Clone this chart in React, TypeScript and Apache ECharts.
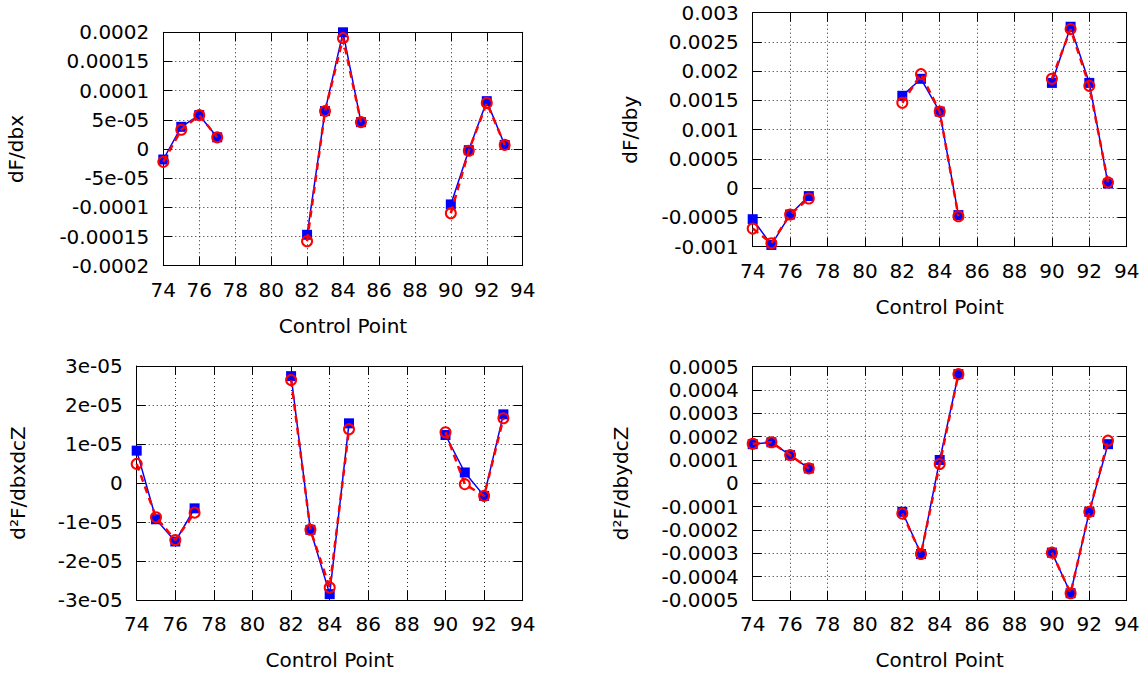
import React, { useEffect, useRef } from "react";
import * as echarts from "echarts";

const controlPoints = [74, 75, 76, 77, 82, 83, 84, 85, 90, 91, 92, 93];
const groups = [[0, 4], [4, 8], [8, 12]];

const dFdbxBlue = [-1.8e-5, 3.8e-5, 5.8e-5, 2.0e-5, -1.47e-4, 6.5e-5, 2.0e-4, 4.6e-5, -9.5e-5, -2e-6, 8.2e-5, 7e-6];
const dFdbxRed = [-2.2e-5, 3.3e-5, 5.8e-5, 2.0e-5, -1.58e-4, 6.5e-5, 1.9e-4, 4.6e-5, -1.1e-4, -3e-6, 7.9e-5, 7e-6];

const dFdbyBlue = [-5.3e-4, -9.7e-4, -4.5e-4, -1.35e-4, 1.58e-3, 1.87e-3, 1.31e-3, -4.6e-4, 1.8e-3, 2.76e-3, 1.8e-3, 8e-5];
const dFdbyRed = [-6.9e-4, -9.4e-4, -4.5e-4, -1.75e-4, 1.46e-3, 1.95e-3, 1.31e-3, -4.8e-4, 1.87e-3, 2.72e-3, 1.75e-3, 1.0e-4];

const d2FdbxdcZBlue = [8.3e-6, -9.3e-6, -1.5e-5, -6.5e-6, 2.74e-5, -1.2e-5, -2.85e-5, 1.53e-5, 1.23e-5, 2.7e-6, -3.3e-6, 1.76e-5];
const d2FdbxdcZRed = [4.9e-6, -8.8e-6, -1.46e-5, -7.6e-6, 2.64e-5, -1.2e-5, -2.68e-5, 1.38e-5, 1.3e-5, -0.3e-6, -3.3e-6, 1.66e-5];

const d2FdbydcZBlue = [1.68e-4, 1.76e-4, 1.21e-4, 6.4e-5, -1.22e-4, -3.03e-4, 1.0e-4, 4.68e-4, -2.97e-4, -4.71e-4, -1.22e-4, 1.68e-4];
const d2FdbydcZRed = [1.7e-4, 1.76e-4, 1.21e-4, 6.4e-5, -1.29e-4, -3.03e-4, 8.3e-5, 4.68e-4, -2.97e-4, -4.71e-4, -1.22e-4, 1.83e-4];

const xTickLabels = ["74", "76", "78", "80", "82", "84", "86", "88", "90", "92", "94"];
const yTicksDbx = ["-0.0002", "-0.00015", "-0.0001", "-5e-05", "0", "5e-05", "0.0001", "0.00015", "0.0002"];
const yTicksDby = ["-0.001", "-0.0005", "0", "0.0005", "0.001", "0.0015", "0.002", "0.0025", "0.003"];
const yTicksDbxdcZ = ["-3e-05", "-2e-05", "-1e-05", "0", "1e-05", "2e-05", "3e-05"];
const yTicksDbydcZ = ["-0.0005", "-0.0004", "-0.0003", "-0.0002", "-0.0001", "0", "0.0001", "0.0002", "0.0003", "0.0004", "0.0005"];

const xAxisTitle = "Control Point";

const FONT = "DejaVu Sans";
const FS = 20;

const panels = [
  {
    name: "dF/dbx", blue: dFdbxBlue, red: dFdbxRed, ticks: yTicksDbx,
    min: -0.0002, max: 0.0002, interval: 0.00005,
    grid: { left: 163.3, top: 32.3, width: 359.4, height: 233.4 },
    nameGap: 137,
  },
  {
    name: "dF/dby", blue: dFdbyBlue, red: dFdbyRed, ticks: yTicksDby,
    min: -0.001, max: 0.003, interval: 0.0005,
    grid: { left: 752.7, top: 12.7, width: 374, height: 234 },
    nameGap: 113,
  },
  {
    name: "d²F/dbxdcZ", blue: d2FdbxdcZBlue, red: d2FdbxdcZRed, ticks: yTicksDbxdcZ,
    min: -0.00003, max: 0.00003, interval: 0.00001,
    grid: { left: 136.7, top: 366, width: 386, height: 234 },
    nameGap: 109,
  },
  {
    name: "d²F/dbydcZ", blue: d2FdbydcZBlue, red: d2FdbydcZRed, ticks: yTicksDbydcZ,
    min: -0.0005, max: 0.0005, interval: 0.0001,
    grid: { left: 752.7, top: 366.7, width: 374, height: 233.3 },
    nameGap: 122,
  },
];

export default function App() {
  const ref = useRef<HTMLDivElement>(null);
  useEffect(() => {
    if (!ref.current) return;
    const chart = echarts.init(ref.current, undefined, { renderer: "svg" });
    const grids: any[] = [];
    const xAxes: any[] = [];
    const yAxes: any[] = [];
    const series: any[] = [];
    const axisLine = { show: true, onZero: false, lineStyle: { color: "#000", width: 1 } };
    const tick = { show: true, inside: true, length: 9, lineStyle: { color: "#000", width: 1 } };
    const splitLine = { show: true, lineStyle: { color: "#222", width: 1, type: [1, 3] } };
    panels.forEach((p, i) => {
      grids.push({ ...p.grid, containLabel: false, outerBoundsMode: "none" });
      const xBase = {
        type: "value", gridIndex: i, min: 74, max: 94, interval: 2,
        axisLine, axisTick: tick,
      };
      xAxes.push({
        ...xBase, position: "bottom",
        splitLine,
        axisLabel: {
          show: true, color: "#000", fontFamily: FONT, fontSize: FS, margin: 14,
          formatter: (v: number) => xTickLabels[Math.round((v - 74) / 2)] ?? "",
        },
        name: xAxisTitle, nameLocation: "middle", nameGap: 50,
        nameTextStyle: { color: "#000", fontFamily: FONT, fontSize: FS },
      });
      xAxes.push({ ...xBase, position: "top", splitLine: { show: false }, axisLabel: { show: false } });
      const yBase = {
        type: "value", gridIndex: i, min: p.min, max: p.max, interval: p.interval,
        axisLine, axisTick: tick,
      };
      yAxes.push({
        ...yBase, position: "left",
        splitLine,
        axisLabel: {
          show: true, color: "#000", fontFamily: FONT, fontSize: FS, margin: 14,
          showMinLabel: true, showMaxLabel: true,
          formatter: (v: number) => p.ticks[Math.round((v - p.min) / p.interval)] ?? "",
        },
        name: p.name, nameLocation: "middle", nameGap: p.nameGap, nameRotate: 90,
        nameTextStyle: { color: "#000", fontFamily: FONT, fontSize: FS },
      });
      yAxes.push({ ...yBase, position: "right", splitLine: { show: false }, axisLabel: { show: false } });
      groups.forEach(([a, b]) => {
        const xs = controlPoints.slice(a, b);
        series.push({
          type: "line", xAxisIndex: 2 * i, yAxisIndex: 2 * i,
          data: xs.map((x, k) => [x, p.blue[a + k]]),
          symbol: "rect", symbolSize: 10,
          itemStyle: { color: "#0000ff" },
          lineStyle: { color: "#0000ff", width: 1.5 },
          z: 2,
        });
      });
      groups.forEach(([a, b]) => {
        const xs = controlPoints.slice(a, b);
        series.push({
          type: "line", xAxisIndex: 2 * i, yAxisIndex: 2 * i,
          data: xs.map((x, k) => [x, p.red[a + k]]),
          symbol: "circle", symbolSize: 10,
          itemStyle: { color: "transparent", borderColor: "#ff0000", borderWidth: 2 },
          lineStyle: { color: "#ff0000", width: 2.5, type: [7, 5] },
          z: 3,
        });
      });
    });
    chart.setOption({
      animation: false,
      backgroundColor: "#fff",
      grid: grids,
      xAxis: xAxes,
      yAxis: yAxes,
      series,
    });
    return () => chart.dispose();
  }, []);
  return (
    <div
      ref={ref}
      style={{ position: "fixed", left: 0, top: 0, width: 1145, height: 677, background: "#fff" }}
    />
  );
}
